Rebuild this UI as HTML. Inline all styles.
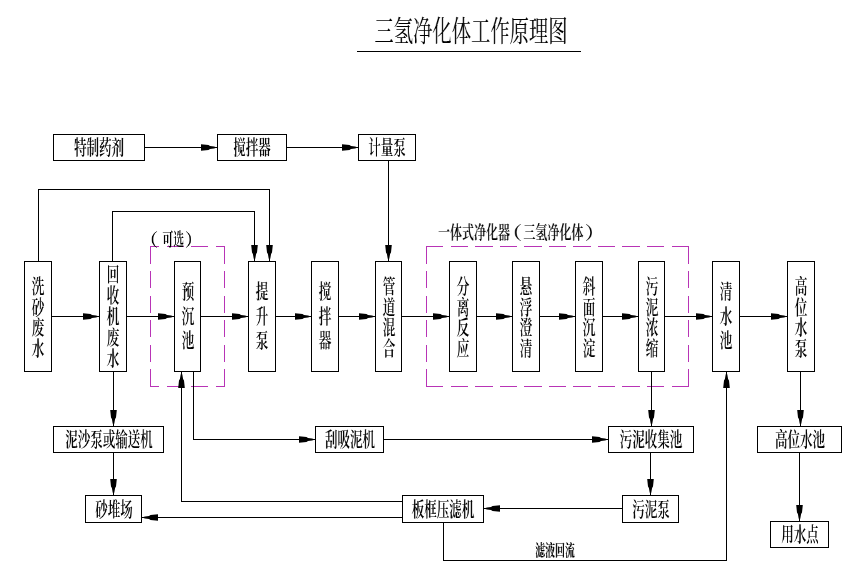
<!DOCTYPE html>
<html lang="zh-CN">
<head>
<meta charset="utf-8">
<title>三氢净化体工作原理图</title>
<style>
html,body{margin:0;padding:0;background:#fff;}
#stage{position:relative;width:858px;height:586px;overflow:hidden;background:#fff;
  font-family:"Liberation Serif", "Noto Serif CJK SC", serif;font-weight:600;color:#000;}
#stage svg{position:absolute;left:0;top:0;}
.t{will-change:transform;position:absolute;white-space:nowrap;text-align:center;transform-origin:50% 50%;letter-spacing:0;}
.v{white-space:normal;word-break:break-all;}
.title{font-weight:400;}
.sm{font-weight:700;}
.pl,.pr{display:inline-block;transform:scaleX(1.7);}
.pl{transform-origin:100% 50%;}
.pr{transform-origin:0 50%;}
</style>
</head>
<body>
<div id="stage">
<svg width="858" height="586" viewBox="0 0 858 586" shape-rendering="crispEdges">
<polyline points="356.5,51.5 580.5,51.5" fill="none" stroke="#000" stroke-width="1"/>
<rect x="53.5" y="134.5" width="91" height="26" fill="none" stroke="#000" stroke-width="1"/>
<rect x="217.5" y="134.5" width="69" height="26" fill="none" stroke="#000" stroke-width="1"/>
<rect x="358.5" y="134.5" width="57" height="26" fill="none" stroke="#000" stroke-width="1"/>
<rect x="53.5" y="426.5" width="110" height="26" fill="none" stroke="#000" stroke-width="1"/>
<rect x="315.5" y="426.5" width="68" height="26" fill="none" stroke="#000" stroke-width="1"/>
<rect x="608.5" y="426.5" width="85" height="26" fill="none" stroke="#000" stroke-width="1"/>
<rect x="757.5" y="426.5" width="84" height="26" fill="none" stroke="#000" stroke-width="1"/>
<rect x="85.5" y="495.5" width="56" height="27" fill="none" stroke="#000" stroke-width="1"/>
<rect x="402.5" y="495.5" width="81" height="27" fill="none" stroke="#000" stroke-width="1"/>
<rect x="622.5" y="495.5" width="56" height="27" fill="none" stroke="#000" stroke-width="1"/>
<rect x="770.5" y="521.5" width="58" height="26" fill="none" stroke="#000" stroke-width="1"/>
<rect x="24.5" y="261.5" width="27" height="110" fill="none" stroke="#000" stroke-width="1"/>
<rect x="99.5" y="261.5" width="27" height="110" fill="none" stroke="#000" stroke-width="1"/>
<rect x="174.5" y="261.5" width="26" height="110" fill="none" stroke="#000" stroke-width="1"/>
<rect x="248.5" y="261.5" width="27" height="110" fill="none" stroke="#000" stroke-width="1"/>
<rect x="311.5" y="261.5" width="27" height="110" fill="none" stroke="#000" stroke-width="1"/>
<rect x="375.5" y="261.5" width="26" height="110" fill="none" stroke="#000" stroke-width="1"/>
<rect x="449.5" y="261.5" width="27" height="110" fill="none" stroke="#000" stroke-width="1"/>
<rect x="512.5" y="261.5" width="27" height="110" fill="none" stroke="#000" stroke-width="1"/>
<rect x="575.5" y="261.5" width="27" height="110" fill="none" stroke="#000" stroke-width="1"/>
<rect x="638.5" y="261.5" width="26" height="110" fill="none" stroke="#000" stroke-width="1"/>
<rect x="712.5" y="261.5" width="27" height="110" fill="none" stroke="#000" stroke-width="1"/>
<rect x="787.5" y="261.5" width="27" height="110" fill="none" stroke="#000" stroke-width="1"/>
<line x1="150.50" y1="246.00" x2="150.50" y2="263.82" stroke="#b834b6" stroke-width="1"/>
<line x1="150.50" y1="270.98" x2="150.50" y2="288.38" stroke="#b834b6" stroke-width="1"/>
<line x1="150.50" y1="295.52" x2="150.50" y2="312.93" stroke="#b834b6" stroke-width="1"/>
<line x1="150.50" y1="320.07" x2="150.50" y2="337.48" stroke="#b834b6" stroke-width="1"/>
<line x1="150.50" y1="344.62" x2="150.50" y2="362.02" stroke="#b834b6" stroke-width="1"/>
<line x1="150.50" y1="369.17" x2="150.50" y2="387.00" stroke="#b834b6" stroke-width="1"/>
<line x1="224.50" y1="246.00" x2="224.50" y2="263.82" stroke="#b834b6" stroke-width="1"/>
<line x1="224.50" y1="270.98" x2="224.50" y2="288.38" stroke="#b834b6" stroke-width="1"/>
<line x1="224.50" y1="295.52" x2="224.50" y2="312.93" stroke="#b834b6" stroke-width="1"/>
<line x1="224.50" y1="320.07" x2="224.50" y2="337.48" stroke="#b834b6" stroke-width="1"/>
<line x1="224.50" y1="344.62" x2="224.50" y2="362.02" stroke="#b834b6" stroke-width="1"/>
<line x1="224.50" y1="369.17" x2="224.50" y2="387.00" stroke="#b834b6" stroke-width="1"/>
<line x1="150.00" y1="246.50" x2="159.38" y2="246.50" stroke="#b834b6" stroke-width="1"/>
<line x1="166.53" y1="246.50" x2="183.93" y2="246.50" stroke="#b834b6" stroke-width="1"/>
<line x1="191.07" y1="246.50" x2="208.47" y2="246.50" stroke="#b834b6" stroke-width="1"/>
<line x1="215.62" y1="246.50" x2="225.00" y2="246.50" stroke="#b834b6" stroke-width="1"/>
<line x1="150.00" y1="386.50" x2="159.38" y2="386.50" stroke="#b834b6" stroke-width="1"/>
<line x1="166.53" y1="386.50" x2="183.93" y2="386.50" stroke="#b834b6" stroke-width="1"/>
<line x1="191.07" y1="386.50" x2="208.47" y2="386.50" stroke="#b834b6" stroke-width="1"/>
<line x1="215.62" y1="386.50" x2="225.00" y2="386.50" stroke="#b834b6" stroke-width="1"/>
<line x1="426.50" y1="246.00" x2="426.50" y2="263.82" stroke="#b834b6" stroke-width="1"/>
<line x1="426.50" y1="270.98" x2="426.50" y2="288.38" stroke="#b834b6" stroke-width="1"/>
<line x1="426.50" y1="295.52" x2="426.50" y2="312.93" stroke="#b834b6" stroke-width="1"/>
<line x1="426.50" y1="320.07" x2="426.50" y2="337.48" stroke="#b834b6" stroke-width="1"/>
<line x1="426.50" y1="344.62" x2="426.50" y2="362.02" stroke="#b834b6" stroke-width="1"/>
<line x1="426.50" y1="369.17" x2="426.50" y2="387.00" stroke="#b834b6" stroke-width="1"/>
<line x1="688.50" y1="246.00" x2="688.50" y2="263.82" stroke="#b834b6" stroke-width="1"/>
<line x1="688.50" y1="270.98" x2="688.50" y2="288.38" stroke="#b834b6" stroke-width="1"/>
<line x1="688.50" y1="295.52" x2="688.50" y2="312.93" stroke="#b834b6" stroke-width="1"/>
<line x1="688.50" y1="320.07" x2="688.50" y2="337.48" stroke="#b834b6" stroke-width="1"/>
<line x1="688.50" y1="344.62" x2="688.50" y2="362.02" stroke="#b834b6" stroke-width="1"/>
<line x1="688.50" y1="369.17" x2="688.50" y2="387.00" stroke="#b834b6" stroke-width="1"/>
<line x1="426.00" y1="246.50" x2="443.45" y2="246.50" stroke="#b834b6" stroke-width="1"/>
<line x1="450.60" y1="246.50" x2="468.00" y2="246.50" stroke="#b834b6" stroke-width="1"/>
<line x1="475.15" y1="246.50" x2="492.55" y2="246.50" stroke="#b834b6" stroke-width="1"/>
<line x1="499.70" y1="246.50" x2="517.10" y2="246.50" stroke="#b834b6" stroke-width="1"/>
<line x1="524.25" y1="246.50" x2="541.65" y2="246.50" stroke="#b834b6" stroke-width="1"/>
<line x1="548.80" y1="246.50" x2="566.20" y2="246.50" stroke="#b834b6" stroke-width="1"/>
<line x1="573.35" y1="246.50" x2="590.75" y2="246.50" stroke="#b834b6" stroke-width="1"/>
<line x1="597.90" y1="246.50" x2="615.30" y2="246.50" stroke="#b834b6" stroke-width="1"/>
<line x1="622.45" y1="246.50" x2="639.85" y2="246.50" stroke="#b834b6" stroke-width="1"/>
<line x1="647.00" y1="246.50" x2="664.40" y2="246.50" stroke="#b834b6" stroke-width="1"/>
<line x1="671.55" y1="246.50" x2="689.00" y2="246.50" stroke="#b834b6" stroke-width="1"/>
<line x1="426.00" y1="386.50" x2="443.45" y2="386.50" stroke="#b834b6" stroke-width="1"/>
<line x1="450.60" y1="386.50" x2="468.00" y2="386.50" stroke="#b834b6" stroke-width="1"/>
<line x1="475.15" y1="386.50" x2="492.55" y2="386.50" stroke="#b834b6" stroke-width="1"/>
<line x1="499.70" y1="386.50" x2="517.10" y2="386.50" stroke="#b834b6" stroke-width="1"/>
<line x1="524.25" y1="386.50" x2="541.65" y2="386.50" stroke="#b834b6" stroke-width="1"/>
<line x1="548.80" y1="386.50" x2="566.20" y2="386.50" stroke="#b834b6" stroke-width="1"/>
<line x1="573.35" y1="386.50" x2="590.75" y2="386.50" stroke="#b834b6" stroke-width="1"/>
<line x1="597.90" y1="386.50" x2="615.30" y2="386.50" stroke="#b834b6" stroke-width="1"/>
<line x1="622.45" y1="386.50" x2="639.85" y2="386.50" stroke="#b834b6" stroke-width="1"/>
<line x1="647.00" y1="386.50" x2="664.40" y2="386.50" stroke="#b834b6" stroke-width="1"/>
<line x1="671.55" y1="386.50" x2="689.00" y2="386.50" stroke="#b834b6" stroke-width="1"/>
<polyline points="144.5,147.5 217.5,147.5" fill="none" stroke="#000" stroke-width="1"/>
<polygon points="217.00,147.50 214.00,146.60 210.00,145.90 208.50,145.00 201.00,144.20 201.00,150.80 208.50,150.00 210.00,149.10 214.00,148.40" fill="#000" shape-rendering="geometricPrecision"/>
<polyline points="286.5,147.5 358.5,147.5" fill="none" stroke="#000" stroke-width="1"/>
<polygon points="358.00,147.50 355.00,146.60 351.00,145.90 349.50,145.00 342.00,144.20 342.00,150.80 349.50,150.00 351.00,149.10 355.00,148.40" fill="#000" shape-rendering="geometricPrecision"/>
<polyline points="388.5,160.5 388.5,261.5" fill="none" stroke="#000" stroke-width="1"/>
<polygon points="388.50,261.00 387.60,258.00 386.90,254.00 386.00,252.50 385.20,245.00 391.80,245.00 391.00,252.50 390.10,254.00 389.40,258.00" fill="#000" shape-rendering="geometricPrecision"/>
<polyline points="38.5,261.5 38.5,189.5 269.5,189.5 269.5,261.5" fill="none" stroke="#000" stroke-width="1"/>
<polygon points="269.50,261.00 268.60,258.00 267.90,254.00 267.00,252.50 266.20,245.00 272.80,245.00 272.00,252.50 271.10,254.00 270.40,258.00" fill="#000" shape-rendering="geometricPrecision"/>
<polyline points="112.5,261.5 112.5,211.5 254.5,211.5 254.5,261.5" fill="none" stroke="#000" stroke-width="1"/>
<polygon points="254.50,261.00 253.60,258.00 252.90,254.00 252.00,252.50 251.20,245.00 257.80,245.00 257.00,252.50 256.10,254.00 255.40,258.00" fill="#000" shape-rendering="geometricPrecision"/>
<polyline points="51.5,316.5 99.5,316.5" fill="none" stroke="#000" stroke-width="1"/>
<polygon points="99.00,316.50 96.00,315.60 92.00,314.90 90.50,314.00 83.00,313.20 83.00,319.80 90.50,319.00 92.00,318.10 96.00,317.40" fill="#000" shape-rendering="geometricPrecision"/>
<polyline points="126.5,316.5 174.5,316.5" fill="none" stroke="#000" stroke-width="1"/>
<polygon points="174.00,316.50 171.00,315.60 167.00,314.90 165.50,314.00 158.00,313.20 158.00,319.80 165.50,319.00 167.00,318.10 171.00,317.40" fill="#000" shape-rendering="geometricPrecision"/>
<polyline points="200.5,316.5 248.5,316.5" fill="none" stroke="#000" stroke-width="1"/>
<polygon points="248.00,316.50 245.00,315.60 241.00,314.90 239.50,314.00 232.00,313.20 232.00,319.80 239.50,319.00 241.00,318.10 245.00,317.40" fill="#000" shape-rendering="geometricPrecision"/>
<polyline points="275.5,316.5 311.5,316.5" fill="none" stroke="#000" stroke-width="1"/>
<polygon points="311.00,316.50 308.00,315.60 304.00,314.90 302.50,314.00 295.00,313.20 295.00,319.80 302.50,319.00 304.00,318.10 308.00,317.40" fill="#000" shape-rendering="geometricPrecision"/>
<polyline points="338.5,316.5 375.5,316.5" fill="none" stroke="#000" stroke-width="1"/>
<polygon points="375.00,316.50 372.00,315.60 368.00,314.90 366.50,314.00 359.00,313.20 359.00,319.80 366.50,319.00 368.00,318.10 372.00,317.40" fill="#000" shape-rendering="geometricPrecision"/>
<polyline points="401.5,316.5 449.5,316.5" fill="none" stroke="#000" stroke-width="1"/>
<polygon points="449.00,316.50 446.00,315.60 442.00,314.90 440.50,314.00 433.00,313.20 433.00,319.80 440.50,319.00 442.00,318.10 446.00,317.40" fill="#000" shape-rendering="geometricPrecision"/>
<polyline points="476.5,316.5 512.5,316.5" fill="none" stroke="#000" stroke-width="1"/>
<polygon points="512.00,316.50 509.00,315.60 505.00,314.90 503.50,314.00 496.00,313.20 496.00,319.80 503.50,319.00 505.00,318.10 509.00,317.40" fill="#000" shape-rendering="geometricPrecision"/>
<polyline points="539.5,316.5 575.5,316.5" fill="none" stroke="#000" stroke-width="1"/>
<polygon points="575.00,316.50 572.00,315.60 568.00,314.90 566.50,314.00 559.00,313.20 559.00,319.80 566.50,319.00 568.00,318.10 572.00,317.40" fill="#000" shape-rendering="geometricPrecision"/>
<polyline points="602.5,316.5 638.5,316.5" fill="none" stroke="#000" stroke-width="1"/>
<polygon points="638.00,316.50 635.00,315.60 631.00,314.90 629.50,314.00 622.00,313.20 622.00,319.80 629.50,319.00 631.00,318.10 635.00,317.40" fill="#000" shape-rendering="geometricPrecision"/>
<polyline points="664.5,316.5 712.5,316.5" fill="none" stroke="#000" stroke-width="1"/>
<polygon points="712.00,316.50 709.00,315.60 705.00,314.90 703.50,314.00 696.00,313.20 696.00,319.80 703.50,319.00 705.00,318.10 709.00,317.40" fill="#000" shape-rendering="geometricPrecision"/>
<polyline points="739.5,316.5 787.5,316.5" fill="none" stroke="#000" stroke-width="1"/>
<polygon points="787.00,316.50 784.00,315.60 780.00,314.90 778.50,314.00 771.00,313.20 771.00,319.80 778.50,319.00 780.00,318.10 784.00,317.40" fill="#000" shape-rendering="geometricPrecision"/>
<polyline points="113.5,371.5 113.5,426.5" fill="none" stroke="#000" stroke-width="1"/>
<polygon points="113.50,426.00 112.60,423.00 111.90,419.00 111.00,417.50 110.20,410.00 116.80,410.00 116.00,417.50 115.10,419.00 114.40,423.00" fill="#000" shape-rendering="geometricPrecision"/>
<polyline points="113.5,452.5 113.5,495.5" fill="none" stroke="#000" stroke-width="1"/>
<polygon points="113.50,495.00 112.60,492.00 111.90,488.00 111.00,486.50 110.20,479.00 116.80,479.00 116.00,486.50 115.10,488.00 114.40,492.00" fill="#000" shape-rendering="geometricPrecision"/>
<polyline points="193.5,371.5 193.5,439.5 315.5,439.5" fill="none" stroke="#000" stroke-width="1"/>
<polygon points="315.00,439.50 312.00,438.60 308.00,437.90 306.50,437.00 299.00,436.20 299.00,442.80 306.50,442.00 308.00,441.10 312.00,440.40" fill="#000" shape-rendering="geometricPrecision"/>
<polyline points="383.5,439.5 608.5,439.5" fill="none" stroke="#000" stroke-width="1"/>
<polygon points="608.00,439.50 605.00,438.60 601.00,437.90 599.50,437.00 592.00,436.20 592.00,442.80 599.50,442.00 601.00,441.10 605.00,440.40" fill="#000" shape-rendering="geometricPrecision"/>
<polyline points="402.5,501.5 181.5,501.5 181.5,371.5" fill="none" stroke="#000" stroke-width="1"/>
<polygon points="181.50,372.00 180.60,375.00 179.90,379.00 179.00,380.50 178.20,388.00 184.80,388.00 184.00,380.50 183.10,379.00 182.40,375.00" fill="#000" shape-rendering="geometricPrecision"/>
<polyline points="402.5,517.5 141.5,517.5" fill="none" stroke="#000" stroke-width="1"/>
<polygon points="142.00,517.50 145.00,516.60 149.00,515.90 150.50,515.00 158.00,514.20 158.00,520.80 150.50,520.00 149.00,519.10 145.00,518.40" fill="#000" shape-rendering="geometricPrecision"/>
<polyline points="651.5,371.5 651.5,426.5" fill="none" stroke="#000" stroke-width="1"/>
<polygon points="651.50,426.00 650.60,423.00 649.90,419.00 649.00,417.50 648.20,410.00 654.80,410.00 654.00,417.50 653.10,419.00 652.40,423.00" fill="#000" shape-rendering="geometricPrecision"/>
<polyline points="650.5,452.5 650.5,495.5" fill="none" stroke="#000" stroke-width="1"/>
<polygon points="650.50,495.00 649.60,492.00 648.90,488.00 648.00,486.50 647.20,479.00 653.80,479.00 653.00,486.50 652.10,488.00 651.40,492.00" fill="#000" shape-rendering="geometricPrecision"/>
<polyline points="622.5,508.5 483.5,508.5" fill="none" stroke="#000" stroke-width="1"/>
<polygon points="484.00,508.50 487.00,507.60 491.00,506.90 492.50,506.00 500.00,505.20 500.00,511.80 492.50,511.00 491.00,510.10 487.00,509.40" fill="#000" shape-rendering="geometricPrecision"/>
<polyline points="443.5,522.5 443.5,560.5 726.5,560.5 726.5,371.5" fill="none" stroke="#000" stroke-width="1"/>
<polygon points="726.50,372.00 725.60,375.00 724.90,379.00 724.00,380.50 723.20,388.00 729.80,388.00 729.00,380.50 728.10,379.00 727.40,375.00" fill="#000" shape-rendering="geometricPrecision"/>
<polyline points="800.5,371.5 800.5,426.5" fill="none" stroke="#000" stroke-width="1"/>
<polygon points="800.50,426.00 799.60,423.00 798.90,419.00 798.00,417.50 797.20,410.00 803.80,410.00 803.00,417.50 802.10,419.00 801.40,423.00" fill="#000" shape-rendering="geometricPrecision"/>
<polyline points="799.5,452.5 799.5,521.5" fill="none" stroke="#000" stroke-width="1"/>
<polygon points="799.50,521.00 798.60,518.00 797.90,514.00 797.00,512.50 796.20,505.00 802.80,505.00 802.00,512.50 801.10,514.00 800.40,518.00" fill="#000" shape-rendering="geometricPrecision"/>
</svg>
<div class="t" style="left:59.0px;top:133.2px;width:80px;font-size:20px;line-height:30.0px;transform:scaleX(0.625)">特制药剂</div>
<div class="t" style="left:222.0px;top:133.2px;width:60px;font-size:20px;line-height:30.0px;transform:scaleX(0.625)">搅拌器</div>
<div class="t" style="left:357.0px;top:133.2px;width:60px;font-size:20px;line-height:30.0px;transform:scaleX(0.625)">计量泵</div>
<div class="t" style="left:38.5px;top:425.2px;width:140px;font-size:20px;line-height:30.0px;transform:scaleX(0.625)">泥沙泵或输送机</div>
<div class="t" style="left:309.5px;top:425.2px;width:80px;font-size:20px;line-height:30.0px;transform:scaleX(0.625)">刮吸泥机</div>
<div class="t" style="left:601.0px;top:425.2px;width:100px;font-size:20px;line-height:30.0px;transform:scaleX(0.625)">污泥收集池</div>
<div class="t" style="left:759.5px;top:425.2px;width:80px;font-size:20px;line-height:30.0px;transform:scaleX(0.625)">高位水池</div>
<div class="t" style="left:83.5px;top:494.8px;width:60px;font-size:20px;line-height:30.0px;transform:scaleX(0.625)">砂堆场</div>
<div class="t" style="left:393.0px;top:494.8px;width:100px;font-size:20px;line-height:30.0px;transform:scaleX(0.625)">板框压滤机</div>
<div class="t" style="left:620.5px;top:494.8px;width:60px;font-size:20px;line-height:30.0px;transform:scaleX(0.625)">污泥泵</div>
<div class="t" style="left:769.5px;top:520.2px;width:60px;font-size:20px;line-height:30.0px;transform:scaleX(0.625)">用水点</div>
<div class="t v" style="left:28.0px;top:277.1px;width:20px;font-size:20px;line-height:20.7px;transform:scaleX(0.625)">洗砂废水</div>
<div class="t v" style="left:103.0px;top:264.8px;width:20px;font-size:20px;line-height:21.1px;transform:scaleX(0.625)">回收机废水</div>
<div class="t v" style="left:177.5px;top:279.6px;width:20px;font-size:20px;line-height:24.6px;transform:scaleX(0.625)">预沉池</div>
<div class="t v" style="left:252.0px;top:279.8px;width:20px;font-size:20px;line-height:24.5px;transform:scaleX(0.625)">提升泵</div>
<div class="t v" style="left:315.0px;top:279.8px;width:20px;font-size:20px;line-height:24.5px;transform:scaleX(0.625)">搅拌器</div>
<div class="t v" style="left:378.5px;top:277.1px;width:20px;font-size:20px;line-height:20.7px;transform:scaleX(0.625)">管道混合</div>
<div class="t v" style="left:453.0px;top:277.1px;width:20px;font-size:20px;line-height:20.7px;transform:scaleX(0.625)">分离反应</div>
<div class="t v" style="left:516.0px;top:277.1px;width:20px;font-size:20px;line-height:20.7px;transform:scaleX(0.625)">悬浮澄清</div>
<div class="t v" style="left:579.0px;top:277.1px;width:20px;font-size:20px;line-height:20.7px;transform:scaleX(0.625)">斜面沉淀</div>
<div class="t v" style="left:641.5px;top:277.1px;width:20px;font-size:20px;line-height:20.7px;transform:scaleX(0.625)">污泥浓缩</div>
<div class="t v" style="left:716.0px;top:279.6px;width:20px;font-size:20px;line-height:24.6px;transform:scaleX(0.625)">清水池</div>
<div class="t v" style="left:791.0px;top:277.1px;width:20px;font-size:20px;line-height:20.7px;transform:scaleX(0.625)">高位水泵</div>
<div class="t title" style="left:325.5px;top:11.2px;width:290px;font-size:29px;line-height:43.5px;transform:scaleX(0.666)">三氢净化体工作原理图</div>
<div class="t" style="left:132.5px;top:227.0px;width:72px;font-size:18px;line-height:27.0px;transform:scaleX(0.6)"><span class="pl" style="margin-right:7px">（</span>可选<span class="pr" style="margin-left:1px">）</span></div>
<div class="t" style="left:399.0px;top:219.5px;width:234px;font-size:18px;line-height:27.0px;transform:scaleX(0.667)">一体式净化器<span class="pl" style="margin-right:2px">（</span>三氢净化体<span class="pr" style="margin-left:2px">）</span></div>
<div class="t sm" style="left:523.7px;top:539.4px;width:62.0px;font-size:15.5px;line-height:23.25px;transform:scaleX(0.64)">滤液回流</div>
</div>
</body>
</html>
